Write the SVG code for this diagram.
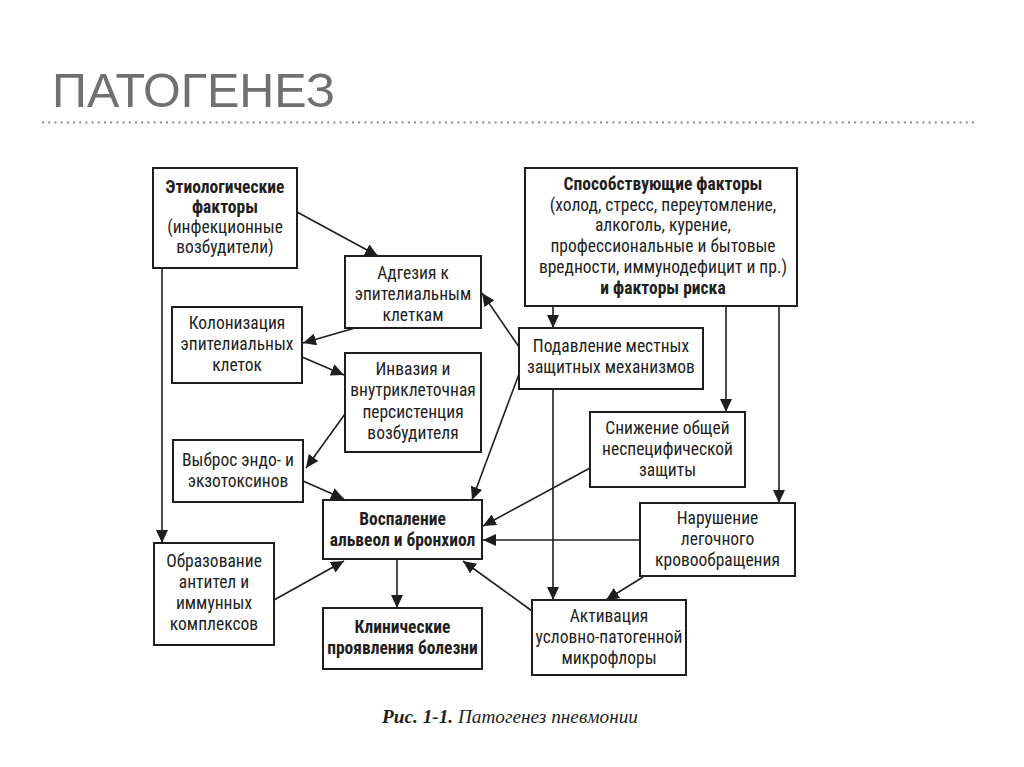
<svg xmlns="http://www.w3.org/2000/svg" width="1024" height="767" viewBox="0 0 1024 767">
<style>
.box{fill:#fff;stroke:#1e1e1e;stroke-width:2}
.t{font-family:"Liberation Sans Narrow","Roboto Condensed","Liberation Sans",sans-serif;font-size:17.5px;fill:#1e1e1e;text-anchor:middle}
.b{font-weight:bold}
.c{stroke:#1e1e1e;stroke-width:1.6;fill:none;marker-end:url(#ah)}
</style>
<defs>
<marker id="ah" markerUnits="userSpaceOnUse" markerWidth="14" markerHeight="12" refX="13" refY="6" orient="auto">
<path d="M0,0 L13,6 L0,12 Z" fill="#1e1e1e"/>
</marker>
</defs>
<rect width="1024" height="767" fill="#fff"/>
<text x="52" y="107" font-family="Liberation Sans, sans-serif" font-size="49" fill="#707070" textLength="283" lengthAdjust="spacingAndGlyphs">ПАТОГЕНЕЗ</text>
<line x1="42" y1="122.5" x2="976" y2="122.5" stroke="#8a8a8a" stroke-width="2" stroke-dasharray="2,4.2"/>

<g id="connectors">
<line class="c" x1="297" y1="212" x2="378" y2="256"/>
<line class="c" x1="162" y1="268" x2="162" y2="543"/>
<line class="c" x1="355" y1="328" x2="303" y2="343"/>
<line class="c" x1="302" y1="357" x2="344" y2="375"/>
<line class="c" x1="345" y1="414" x2="306" y2="468"/>
<line class="c" x1="303" y1="481" x2="344" y2="499"/>
<line class="c" x1="519" y1="347" x2="482" y2="293"/>
<line class="c" x1="519" y1="374" x2="472" y2="500"/>
<line class="c" x1="553" y1="306" x2="553" y2="328"/>
<line class="c" x1="726" y1="306" x2="726" y2="412"/>
<line class="c" x1="779" y1="306" x2="779" y2="503"/>
<line class="c" x1="553" y1="389" x2="553" y2="600"/>
<line class="c" x1="590" y1="468" x2="483" y2="526"/>
<line class="c" x1="640" y1="540" x2="483" y2="540"/>
<line class="c" x1="643" y1="577" x2="606" y2="600"/>
<line class="c" x1="532" y1="611" x2="463" y2="561"/>
<line class="c" x1="397" y1="559" x2="397" y2="608"/>
<line class="c" x1="274" y1="600" x2="344" y2="561"/>
</g>

<g id="etiol">
<rect class="box" x="153" y="168" width="144" height="100"/>
<text class="t b" x="225" y="193">Этиологические</text>
<text class="t b" x="225" y="213">факторы</text>
<text class="t" x="225" y="233">(инфекционные</text>
<text class="t" x="225" y="253">возбудители)</text>
</g>
<g id="adhesion">
<rect class="box" x="345" y="256" width="136" height="72"/>
<text class="t" x="413" y="279">Адгезия к</text>
<text class="t" x="413" y="300">эпителиальным</text>
<text class="t" x="413" y="321">клеткам</text>
</g>
<g id="colonization">
<rect class="box" x="172" y="307" width="130" height="76"/>
<text class="t" x="237" y="329">Колонизация</text>
<text class="t" x="237" y="350">эпителиальных</text>
<text class="t" x="237" y="371">клеток</text>
</g>
<g id="invasion">
<rect class="box" x="345" y="353" width="136" height="99"/>
<text class="t" x="413" y="375">Инвазия и</text>
<text class="t" x="413" y="396">внутриклеточная</text>
<text class="t" x="413" y="418">персистенция</text>
<text class="t" x="413" y="439">возбудителя</text>
</g>
<g id="toxins">
<rect class="box" x="173" y="440" width="130" height="62"/>
<text class="t" x="238" y="466">Выброс эндо- и</text>
<text class="t" x="238" y="487">экзотоксинов</text>
</g>
<g id="inflammation">
<rect class="box" x="323" y="500" width="159" height="59"/>
<text class="t b" x="402.5" y="525">Воспаление</text>
<text class="t b" x="402.5" y="546">альвеол и бронхиол</text>
</g>
<g id="antibodies">
<rect class="box" x="154" y="543" width="120" height="102"/>
<text class="t" x="214" y="567">Образование</text>
<text class="t" x="214" y="588">антител и</text>
<text class="t" x="214" y="609">иммунных</text>
<text class="t" x="214" y="630">комплексов</text>
</g>
<g id="clinical">
<rect class="box" x="323" y="608" width="159" height="61"/>
<text class="t b" x="402.5" y="633">Клинические</text>
<text class="t b" x="402.5" y="654">проявления болезни</text>
</g>
<g id="contributing">
<rect class="box" x="525" y="168" width="272" height="138"/>
<text class="t b" x="663" y="190">Способствующие факторы</text>
<text class="t" x="663" y="211">(холод, стресс, переутомление,</text>
<text class="t" x="663" y="231">алкоголь, курение,</text>
<text class="t" x="663" y="252">профессиональные и бытовые</text>
<text class="t" x="663" y="273">вредности, иммунодефицит и пр.)</text>
<text class="t b" x="663" y="294">и факторы риска</text>
</g>
<g id="suppression">
<rect class="box" x="519" y="328" width="184" height="61"/>
<text class="t" x="611" y="352">Подавление местных</text>
<text class="t" x="611" y="373">защитных механизмов</text>
</g>
<g id="nonspecific">
<rect class="box" x="590" y="412" width="155" height="75"/>
<text class="t" x="667.5" y="434">Снижение общей</text>
<text class="t" x="667.5" y="455">неспецифической</text>
<text class="t" x="667.5" y="476">защиты</text>
</g>
<g id="circulation">
<rect class="box" x="640" y="503" width="155" height="73"/>
<text class="t" x="717.5" y="524">Нарушение</text>
<text class="t" x="717.5" y="545">легочного</text>
<text class="t" x="717.5" y="566">кровообращения</text>
</g>
<g id="activation">
<rect class="box" x="532" y="600" width="154" height="75"/>
<text class="t" x="609" y="622">Активация</text>
<text class="t" x="609" y="643">условно-патогенной</text>
<text class="t" x="609" y="664">микрофлоры</text>
</g>
<text x="382" y="723" font-family="Liberation Serif, serif" font-size="18" font-style="italic" fill="#1e1e1e" textLength="256" lengthAdjust="spacingAndGlyphs"><tspan font-weight="bold">Рис. 1-1.</tspan> Патогенез пневмонии</text>
</svg>
